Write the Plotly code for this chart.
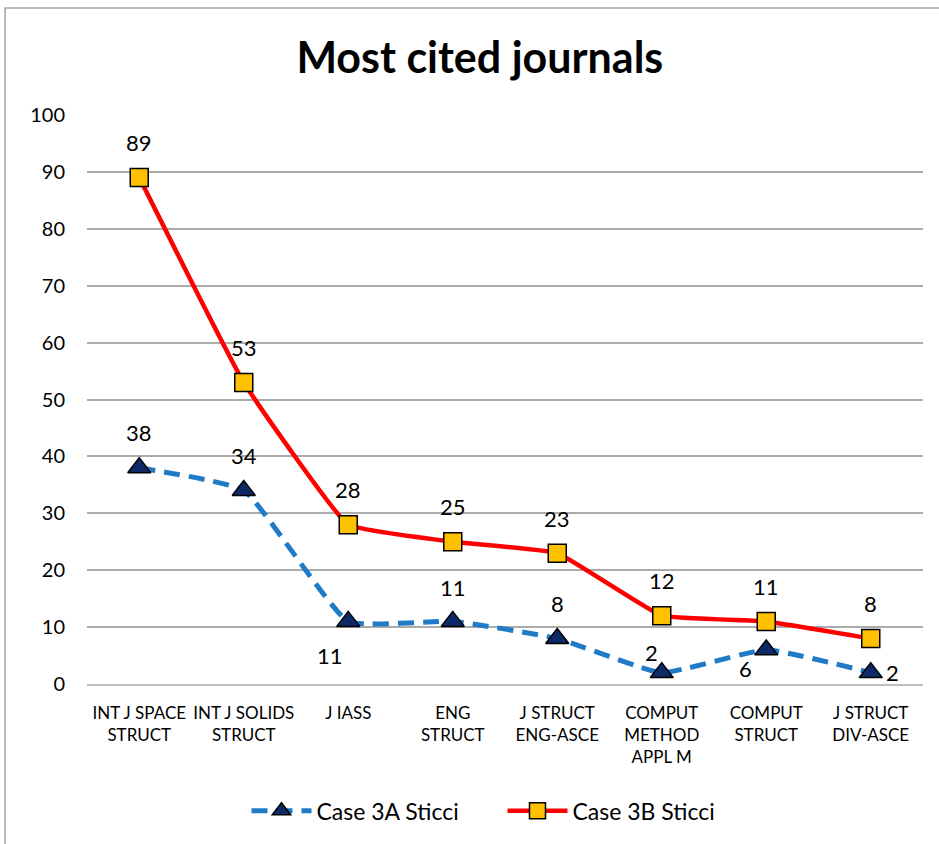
import plotly.graph_objects as go

categories = ["INT J SPACE<br>STRUCT", "INT J SOLIDS<br>STRUCT", "J IASS", "ENG<br>STRUCT",
              "J STRUCT<br>ENG-ASCE", "COMPUT<br>METHOD<br>APPL M", "COMPUT<br>STRUCT", "J STRUCT<br>DIV-ASCE"]
case_3a = [38, 34, 11, 11, 8, 2, 6, 2]
case_3b = [89, 53, 28, 25, 23, 12, 11, 8]
y_ticks = [0, 10, 20, 30, 40, 50, 60, 70, 80, 90, 100]

# label offsets (pixels) for each point label
offs_3a = [(0, 35), (0, 35), (-18, -34), (0, 34), (0, 35), (-10, 20), (-21, -19), (22, 0)]
offs_3b = [(0, 35)] * 8

FONT = "Lato, Open Sans, sans-serif"

fig = go.Figure()
fig.add_trace(go.Scatter(
    x=list(range(len(categories))), y=case_3a, name="Case 3A Sticci", mode="lines+markers",
    line=dict(color="#1F7BC8", width=5, dash="16px,9px", shape="spline", smoothing=0.4),
    marker=dict(symbol="triangle-up", size=20, color="#0E2A66", line=dict(color="#000000", width=1.5)),
))
fig.add_trace(go.Scatter(
    x=list(range(len(categories))), y=case_3b, name="Case 3B Sticci", mode="lines+markers",
    line=dict(color="#FF0000", width=4.5, shape="spline", smoothing=0.3),
    marker=dict(symbol="square", size=18, color="#FFC000", line=dict(color="#000000", width=1.5)),
))

annotations = []
for i, v in enumerate(case_3a):
    dx, dy = offs_3a[i]
    annotations.append(dict(x=i, y=v, text=str(v), showarrow=False, xshift=dx, yshift=dy,
                            font=dict(size=22, color="#000000", family=FONT)))
for i, v in enumerate(case_3b):
    dx, dy = offs_3b[i]
    annotations.append(dict(x=i, y=v, text=str(v), showarrow=False, xshift=dx, yshift=dy,
                            font=dict(size=22, color="#000000", family=FONT)))

fig.update_layout(
    width=939, height=844,
    margin=dict(l=87, r=16, t=115, b=160, autoexpand=False),
    paper_bgcolor="white", plot_bgcolor="white",
    font=dict(family=FONT, color="#000000"),
    title=dict(text="<b>Most cited journals</b>", x=0.511, xanchor="center", y=0.931, yanchor="middle",
               font=dict(size=43, family=FONT, color="#000000")),
    xaxis=dict(range=[-0.5, 7.5], tickmode="array", tickvals=list(range(len(categories))),
               ticktext=categories, showgrid=False, zeroline=False, showline=True,
               linecolor="#BFBFBF", linewidth=1.5, tickfont=dict(size=17, family=FONT),
               tickangle=0, ticks="outside", ticklen=13, tickcolor="rgba(0,0,0,0)", automargin=False),
    yaxis=dict(range=[0, 100], tickvals=y_ticks, showgrid=True, gridcolor="#ABABAB", gridwidth=1.5,
               zeroline=False, showline=False, tickfont=dict(size=20, family=FONT), ticks="outside",
               ticklen=17, tickcolor="rgba(0,0,0,0)", automargin=False),
    legend=dict(orientation="h", x=0.497, xanchor="center", y=-0.223, yanchor="middle",
                font=dict(size=23, family=FONT), itemwidth=60, entrywidth=181),
    annotations=annotations,
    shapes=[dict(type="rect", xref="paper", yref="paper", x0=-0.098, x1=1.05, y0=-0.5, y1=1.188,
                 line=dict(color="#A6A6A6", width=1.5))],
)

fig.write_html("out.html", config={"displayModeBar": False},
               post_script="document.body.style.margin='0px';")
